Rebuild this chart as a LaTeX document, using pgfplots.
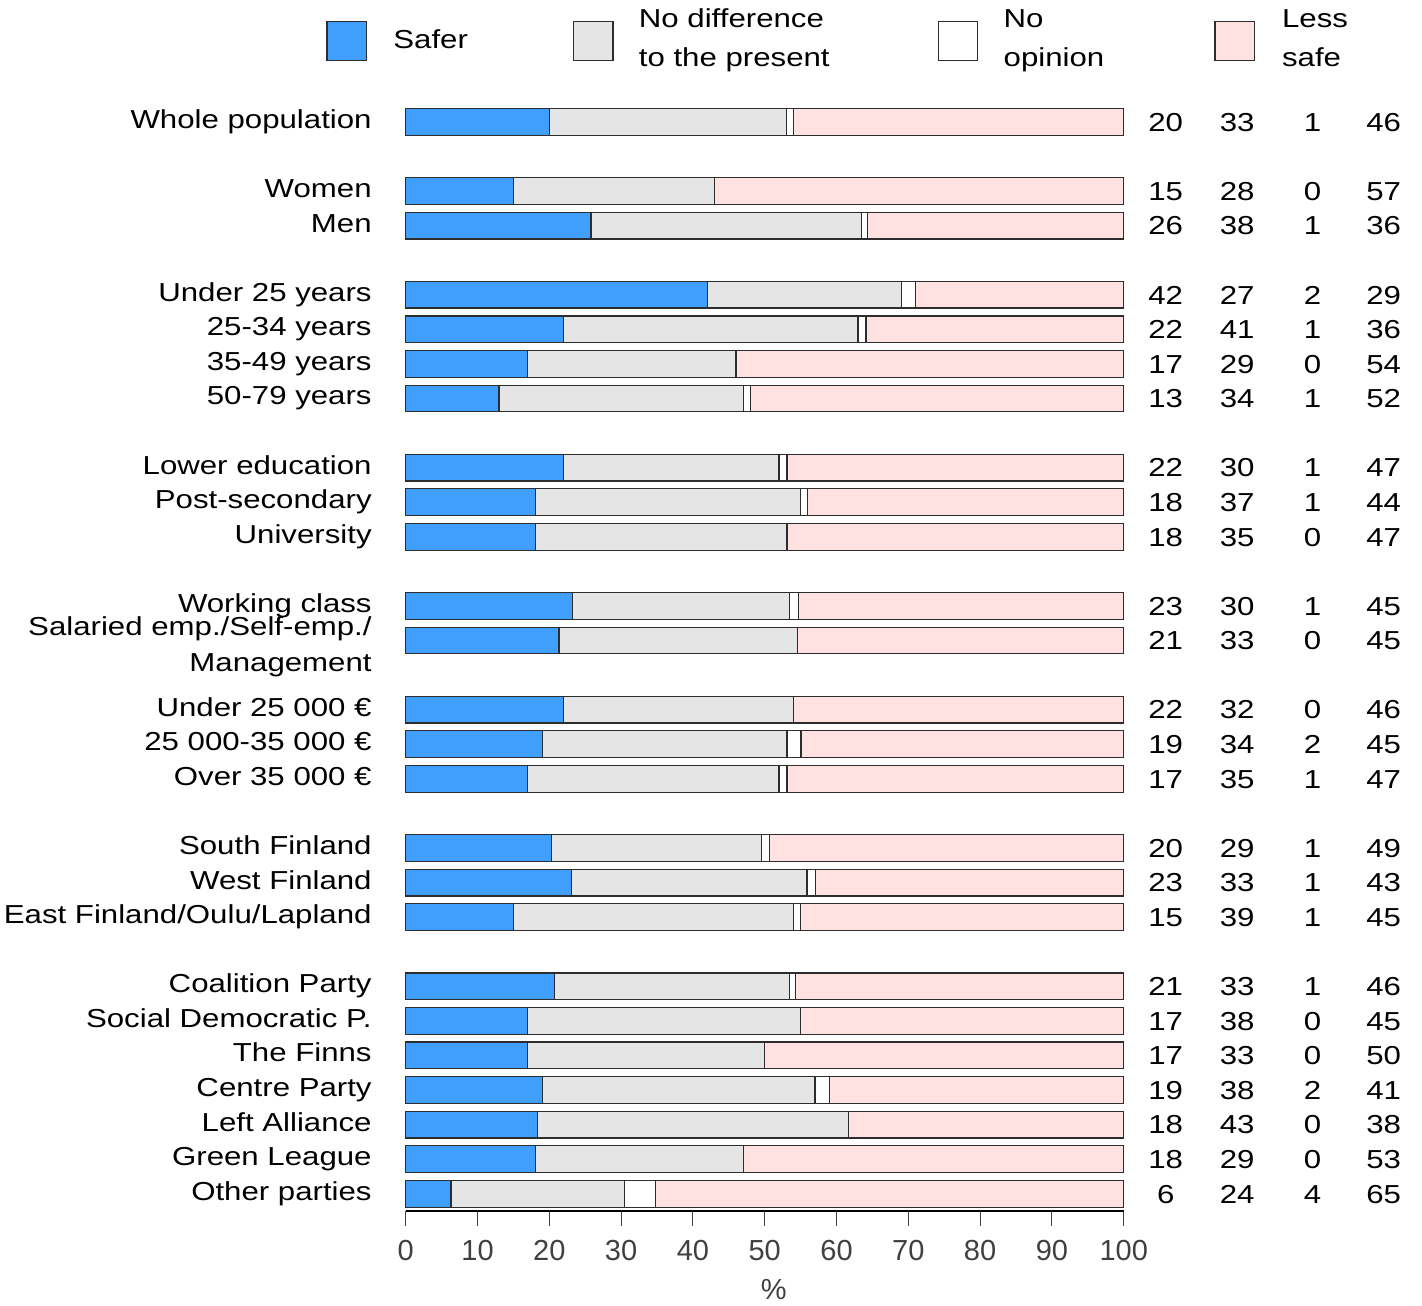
\documentclass[border=0pt]{standalone}
\usepackage{fontspec}
\setmainfont{Liberation Sans}[FakeStretch=1.2]
\newfontfamily\tickfont{Liberation Sans}
\usepackage{pgfplots}
\usepackage{pgfplotstable}
\pgfplotsset{compat=1.18}
\definecolor{cblue}{RGB}{64,158,255}
\definecolor{cgray}{RGB}{229,229,229}
\definecolor{cpink}{RGB}{255,225,225}
\definecolor{cedge}{RGB}{45,45,45}
\definecolor{ctick}{RGB}{64,64,64}
\newcommand\mf{\fontsize{13}{15.6}\selectfont}
\newcommand\tf{\tickfont\fontsize{14.5}{17.4}\selectfont}

\pgfplotstableread[col sep=semicolon]{
y;s;d;n;l;a;b;c;e;lab
0;20.0;33.0;1.0;46.0;20;33;1;46;Whole population
-2;15.0;28.0;0;57.0;15;28;0;57;Women
-3;25.8;37.7;0.8;35.7;26;38;1;36;Men
-5;42.0;27.0;2.0;29.0;42;27;2;29;Under 25 years
-6;22.0;41.0;1.1;35.9;22;41;1;36;25-34 years
-7;17.0;29.0;0;54.0;17;29;0;54;35-49 years
-8;13.0;34.0;1.0;52.0;13;34;1;52;50-79 years
-10;22.0;30.0;1.1;46.9;22;30;1;47;Lower education
-11;18.05;36.95;1.0;44.0;18;37;1;44;Post-secondary
-12;18.05;35.05;0;46.9;18;35;0;47;University
-14;23.25;30.25;1.2;45.3;23;30;1;45;Working class
-15;21.35;33.25;0;45.4;21;33;0;45;{}
-17;22.0;32.0;0;46.0;22;32;0;46;Under 25 000 €
-18;19.0;34.1;1.95;44.95;19;34;2;45;25 000-35 000 €
-19;17.0;35.0;1.1;46.9;17;35;1;47;Over 35 000 €
-21;20.3;29.2;1.2;49.3;20;29;1;49;South Finland
-22;23.1;32.8;1.15;42.95;23;33;1;43;West Finland
-23;15.0;39.0;1.0;45.0;15;39;1;45;East Finland/Oulu/Lapland
-25;20.75;32.65;0.9;45.7;21;33;1;46;Coalition Party
-26;17.0;38.0;0;45.0;17;38;0;45;Social Democratic P.
-27;17.0;33.0;0;50.0;17;33;0;50;The Finns
-28;19.0;38.0;2.0;41.0;19;38;2;41;Centre Party
-29;18.3;43.4;0;38.3;18;43;0;38;Left Alliance
-30;18.05;28.95;0;53.0;18;29;0;53;Green League
-31;6.3;24.2;4.3;65.2;6;24;4;65;Other parties
}\data

\pgfplotsset{mygeom/.style={scale only axis, width=359pt, height=554.8pt,
  xmin=0, xmax=100, ymin=-31.49, ymax=0.6, enlargelimits=false,
  at={(202.85pt,47.15pt)}, anchor=south west, clip=false}}
\pgfplotsset{txt/.style={only marks, mark=*, mark size=0pt,
  mark options={draw=none,fill=none}, nodes near coords,
  point meta=explicit symbolic}}

\begin{document}
\begin{tikzpicture}
\useasboundingbox (0,0) rectangle (711pt,652.5pt);
\begin{axis}[mygeom, xbar stacked, bar width=13.35pt,
  axis x line=bottom, axis y line=none,
  x axis line style={-, line width=1.2pt, black},
  xtick={0,10,...,100}, ytick=\empty,
  xtick align=outside, major tick length=7.5pt,
  xtick style={ctick, line width=0.5pt},
  /pgf/number format/assume math mode=true,
  xticklabel style={font=\tf, text=ctick, inner sep=0pt, anchor=north, yshift=-7.15pt}]
\addplot[fill=cblue, draw=cedge, line width=0.6pt] table[x=s, y=y] {\data};
\addplot[fill=cgray, draw=cedge, line width=0.6pt] table[x=d, y=y] {\data};
\addplot[fill=white, draw=cedge, line width=0.6pt] table[x=n, y=y] {\data};
\addplot[fill=cpink, draw=cedge, line width=0.6pt] table[x=l, y=y] {\data};
\end{axis}
\begin{axis}[mygeom, hide axis]
\addplot[txt, nodes near coords style={font=\mf, text=black, inner sep=0pt, anchor=base, yshift=-4.65pt}] table[x expr=105.85, y=y, meta=a] {\data};
\addplot[txt, nodes near coords style={font=\mf, text=black, inner sep=0pt, anchor=base, yshift=-4.65pt}] table[x expr=115.8, y=y, meta=b] {\data};
\addplot[txt, nodes near coords style={font=\mf, text=black, inner sep=0pt, anchor=base, yshift=-4.65pt}] table[x expr=126.3, y=y, meta=c] {\data};
\addplot[txt, nodes near coords style={font=\mf, text=black, inner sep=0pt, anchor=base, yshift=-4.65pt}] table[x expr=136.2, y=y, meta=e] {\data};
\addplot[txt, nodes near coords style={font=\mf, text=black, inner sep=0pt, anchor=base east, yshift=-3.25pt}] table[x expr=-4.69, y=y, meta=lab] {\data};
\end{axis}
\begin{scope}[shift={(0,652.5pt)}, x=0.5pt, y=-0.5pt]
  % legend
  \filldraw[fill=cblue, draw=cedge, line width=0.6pt] (326.9,21.7) rectangle (366.5,60.7);
  \filldraw[fill=cgray, draw=cedge, line width=0.6pt] (573.4,21.7) rectangle (613,60.7);
  \filldraw[fill=white, draw=cedge, line width=0.6pt] (938.3,21.7) rectangle (977.7,60.7);
  \filldraw[fill=cpink, draw=cedge, line width=0.6pt] (1215,21.7) rectangle (1254.3,60.7);
  \node[font=\mf, anchor=base west, inner sep=0pt] at (393,49) {Safer};
  \node[font=\mf, anchor=base west, inner sep=0pt] at (638.5,28) {No difference};
  \node[font=\mf, anchor=base west, inner sep=0pt] at (638.5,66.3) {to the present};
  \node[font=\mf, anchor=base west, inner sep=0pt] at (1003.3,28) {No};
  \node[font=\mf, anchor=base west, inner sep=0pt] at (1003.3,66.3) {opinion};
  \node[font=\mf, anchor=base west, inner sep=0pt] at (1281.7,28) {Less};
  \node[font=\mf, anchor=base west, inner sep=0pt] at (1281.7,66.3) {safe};
  % two-line row label
  \node[font=\mf, anchor=base east, inner sep=0pt] at (372,635.5) {Salaried emp./Self-emp./};
  \node[font=\mf, anchor=base east, inner sep=0pt] at (372,672) {Management};
  % axis title
  \node[font=\tf, text=ctick, inner sep=0pt] at (773.7,1289.5) {\%};
\end{scope}
\end{tikzpicture}
\end{document}
